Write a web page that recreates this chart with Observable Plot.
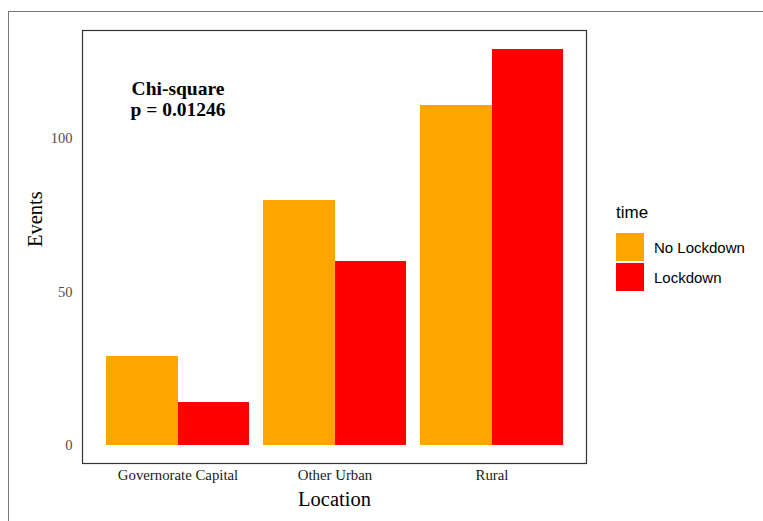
<!DOCTYPE html>
<html>
<head>
<meta charset="utf-8">
<script src="https://cdn.jsdelivr.net/npm/d3@7"></script>
<script src="https://cdn.jsdelivr.net/npm/@observablehq/plot@0.6"></script>
<style>
  html, body { margin: 0; padding: 0; background: #fff; overflow: hidden; }
  #wrap { position: relative; width: 763px; height: 521px; }
  #outer { position: absolute; left: 8px; top: 11px; width: 820px; height: 620px; border: 1.5px solid #777; box-sizing: border-box; }
  #chart { position: absolute; left: 0; top: 0; }
  #legend { position: absolute; left: 616px; top: 203px; font-family: "Liberation Sans", Arial, sans-serif; color: #000; }
  #legend .title { font-size: 17px; height: 29px; line-height: 20px; }
  #legend .row { display: flex; align-items: center; height: 30px; }
  #legend .key { width: 28px; height: 28px; margin-right: 10px; }
  #legend .lab { font-size: 15px; }
</style>
</head>
<body>
<div id="wrap">
  <div id="outer"></div>
  <div id="chart"></div>
  <div id="legend"></div>
</div>
<script>
const locations = ["Governorate Capital", "Other Urban", "Rural"];
const times = ["No Lockdown", "Lockdown"];
const colors = ["#FFA500", "#FF0000"];
const noLockdown = [29, 80, 111];
const lockdown = [14, 60, 129];
const yTicks = [0, 50, 100];
const annotationText = "Chi-square\np = 0.01246";
const annotationLocation = "Governorate Capital";
const annotationY = 113;
const legendTitle = "time";

const rows = [];
locations.forEach((loc, i) => {
  rows.push({location: loc, time: times[0], events: noLockdown[i]});
  rows.push({location: loc, time: times[1], events: lockdown[i]});
});

const W = 763, H = 521;
const mL = 82, mR = 177, mT = 30, mB = 58;
const pIn = 0.092, pOut = 0.141;
const step = (W - mL - mR) / (locations.length - pIn + 2 * pOut);
const half = step * (1 - pIn) / 2;

const maxV = d3.max(rows, d => d.events);

const chart = Plot.plot({
  width: W,
  height: H,
  marginLeft: mL,
  marginRight: mR,
  marginTop: mT,
  marginBottom: mB,
  style: {fontFamily: "'Liberation Serif', 'Times New Roman', serif", background: "transparent"},
  x: {type: "band", domain: locations, paddingInner: pIn, paddingOuter: pOut, label: null},
  y: {domain: [-maxV * 0.0455, maxV * 1.049], label: null},
  color: {domain: times, range: colors},
  marks: [
    Plot.barY(rows.filter(d => d.time === times[0]), {x: "location", y1: 0, y2: "events", fill: "time", insetLeft: 0, insetRight: half - 0.5, shapeRendering: "crispEdges"}),
    Plot.barY(rows.filter(d => d.time === times[1]), {x: "location", y1: 0, y2: "events", fill: "time", insetLeft: half, insetRight: 0, shapeRendering: "crispEdges"}),
    Plot.frame({stroke: "#333", strokeWidth: 1.2}),
    Plot.axisY({ticks: yTicks, tickSize: 0, tickPadding: 10, fontSize: 14.5, fill: "#4d4d4d", label: null}),
    Plot.axisX({tickSize: 0, tickPadding: 6, fontSize: 14.8, fill: "#1a1a1a", label: null}),
    Plot.text(["Location"], {frameAnchor: "bottom", dy: 36, lineAnchor: "middle", fontSize: 20.5, fill: "#000", text: d => d}),
    Plot.text(["Events"], {frameAnchor: "left", dx: -47, rotate: -90, lineAnchor: "middle", fontSize: 20.5, fill: "#000", text: d => d}),
    Plot.text([{x: annotationLocation, y: annotationY, t: annotationText}], {x: "x", y: "y", text: "t", fontSize: 19.5, fontWeight: "bold", lineHeight: 1.08, lineAnchor: "middle", fill: "#000"})
  ]
});
document.getElementById("chart").appendChild(chart);

const legend = document.getElementById("legend");
const t = document.createElement("div");
t.className = "title";
t.textContent = legendTitle;
legend.appendChild(t);
times.forEach((name, i) => {
  const r = document.createElement("div");
  r.className = "row";
  const k = document.createElement("div");
  k.className = "key";
  k.style.background = colors[i];
  const l = document.createElement("div");
  l.className = "lab";
  l.textContent = name;
  r.appendChild(k); r.appendChild(l);
  legend.appendChild(r);
});
</script>
</body>
</html>
